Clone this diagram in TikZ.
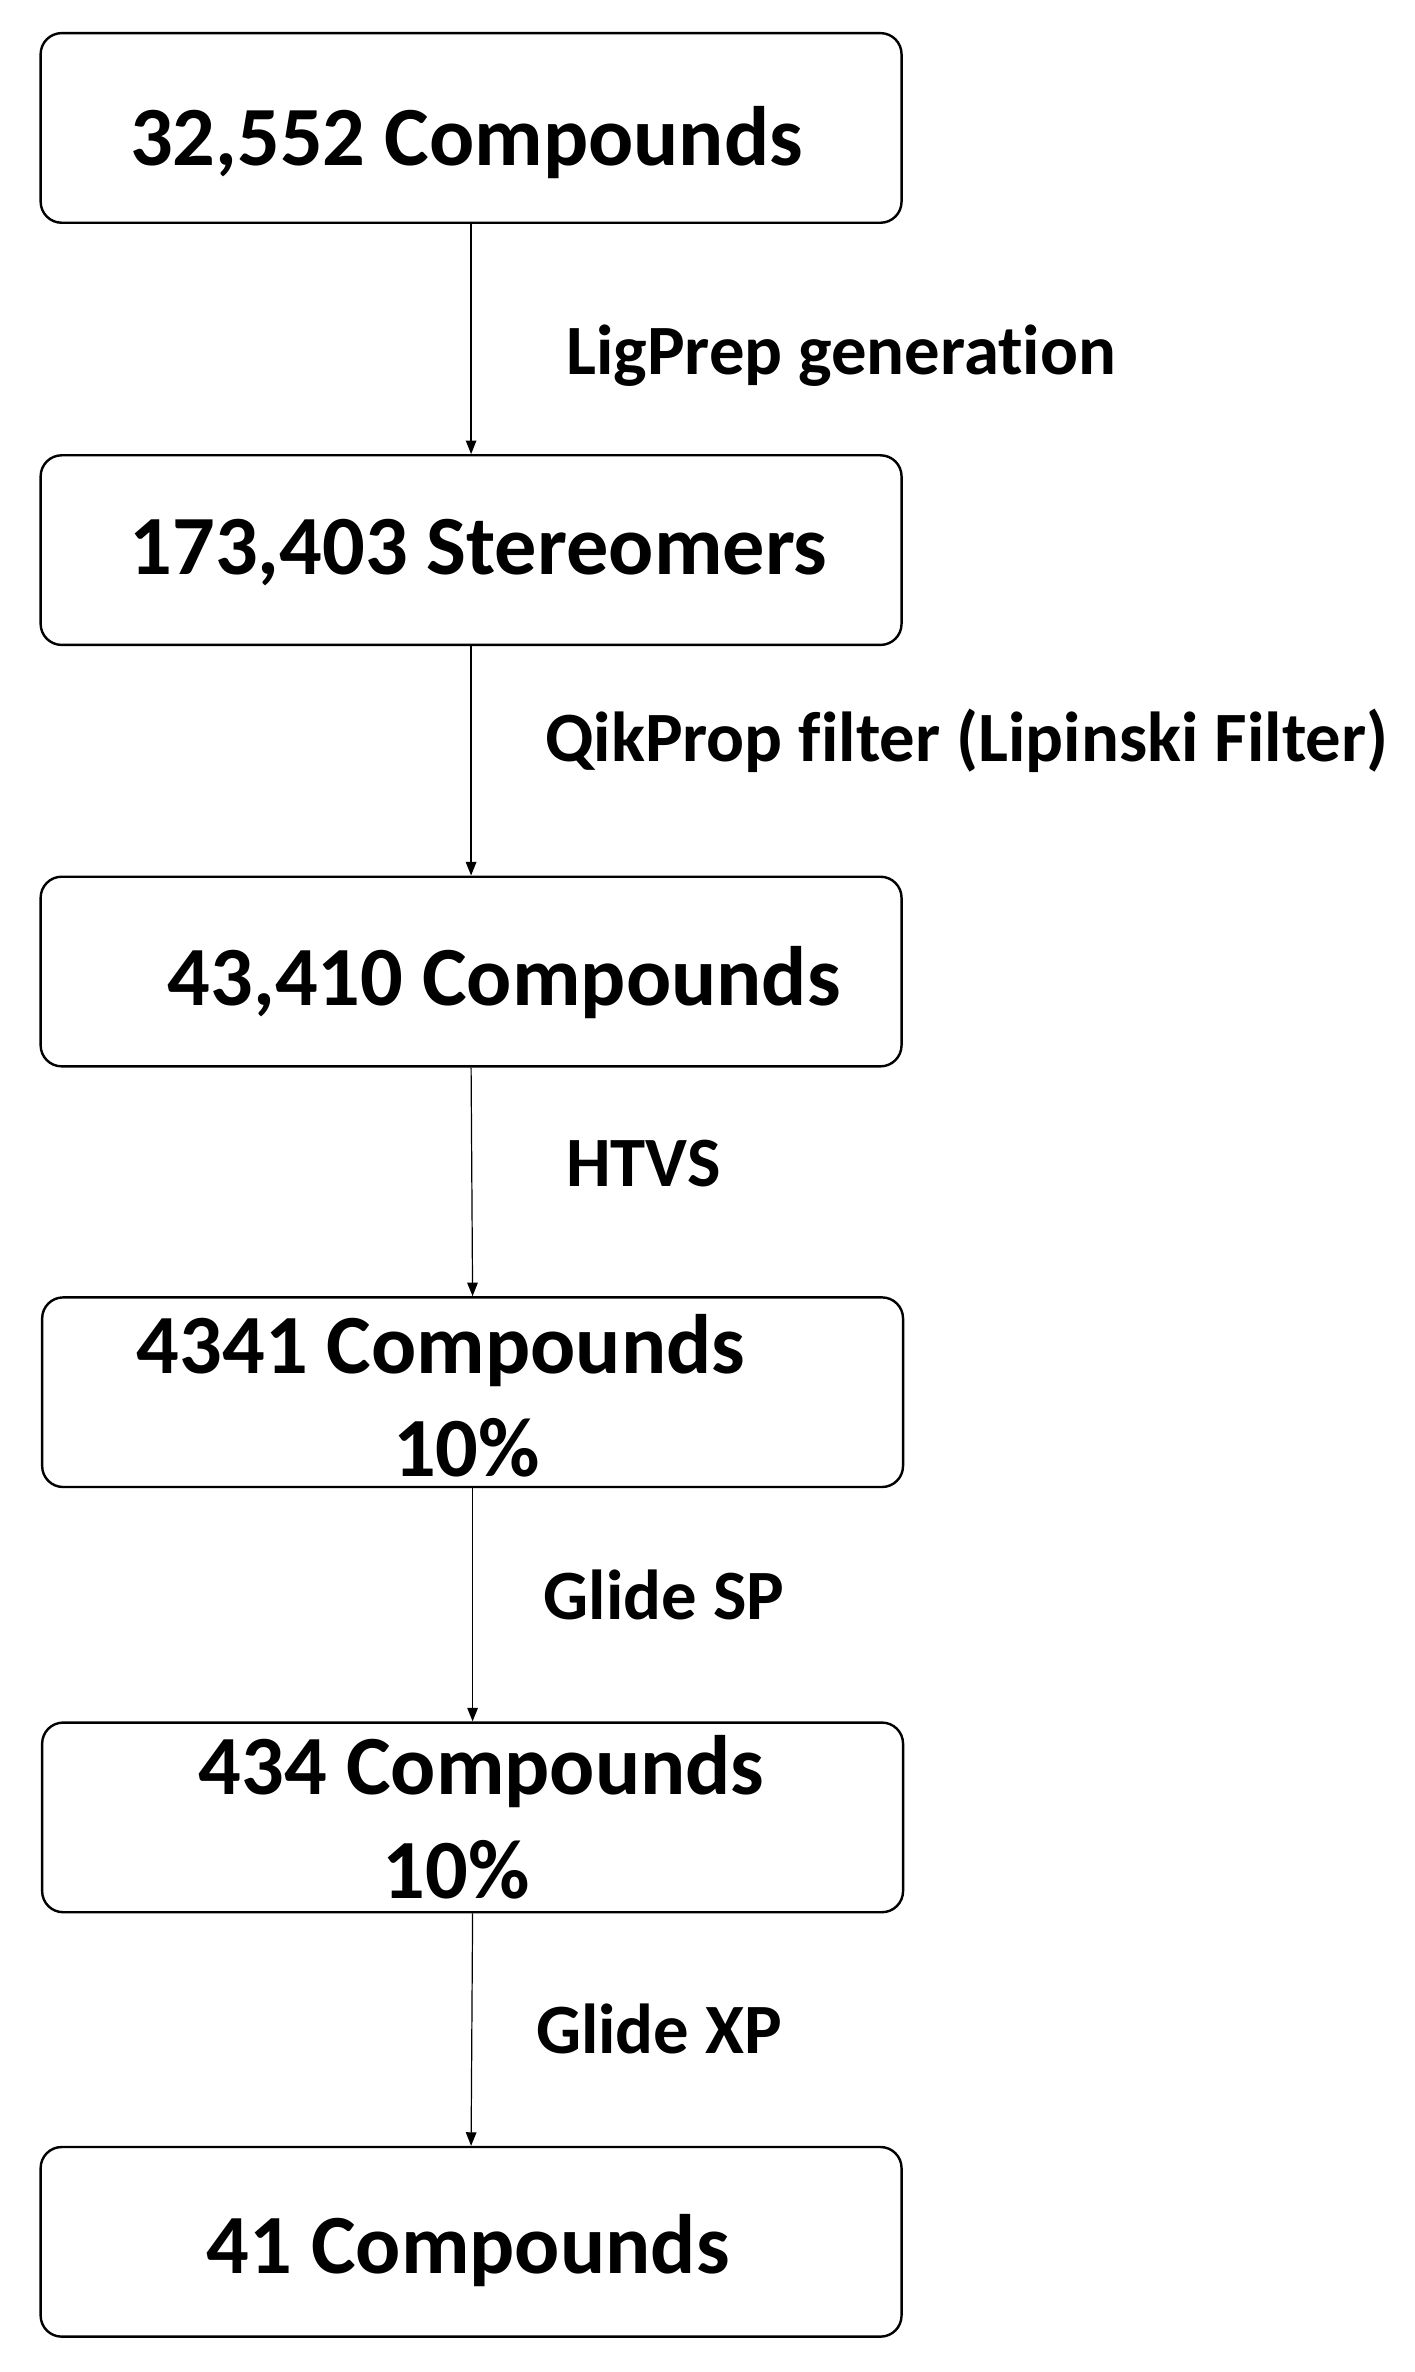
\documentclass[tikz,border=0pt]{standalone}
\usepackage{fontspec}
\setmainfont[Ligatures={NoCommon,NoRare}]{Carlito}
\usetikzlibrary{arrows.meta}
\begin{document}
\begin{tikzpicture}[x=1pt,y=-1pt,
  box/.style={draw,line width=1.6pt,rounded corners=14pt,minimum width=572pt,minimum height=126pt,inner sep=0pt},
  big/.style={font=\fontsize{56}{60}\selectfont\bfseries,inner sep=0pt},
  lab/.style={font=\fontsize{47}{50}\selectfont\bfseries,anchor=west,inner sep=0pt},
  conn/.style={-{Triangle[length=9pt,width=7pt]},line width=0.8pt}]
\useasboundingbox (0,0) rectangle (940,1576);
\node[box] (b1) at (313,85) {};
\node[box] (b2) at (313,365.5) {};
\node[box] (b3) at (313,645.5) {};
\node[box] (b4) at (314,925) {};
\node[box] (b5) at (314,1207.5) {};
\node[box] (b6) at (313,1489.5) {};
\node[big] (t1) at (310,95) {32,552 Compounds};
\node[big] (t2) at (318,367) {173,403 Stereomers};
\node[big] (t3) at (335,653) {43,410 Compounds};
\node[big] (t4a) at (293,897) {4341 Compounds};
\node[big] (t4b) at (310,962) {10\%};
\node[big] (t5a) at (320,1177) {434 Compounds};
\node[big] (t5b) at (303,1242) {10\%};
\node[big] (t6) at (311,1495) {41 Compounds};
\node[lab] (l1) at (376,236) {LigPrep generation};
\node[lab] (l2) at (362,492) {QikProp filter (Lipinski Filter)};
\node[lab] (l3) at (376,773) {HTVS};
\node[lab] (l4) at (361,1060) {Glide SP};
\node[lab] (l5) at (356,1348) {Glide XP};
\draw[conn] (b1.south) -- (b2.north);
\draw[conn] (b2.south) -- (b3.north);
\draw[conn] (b3.south) -- (b4.north);
\draw[conn] (b4.south) -- (b5.north);
\draw[conn] (b5.south) -- (b6.north);
\end{tikzpicture}
\end{document}
